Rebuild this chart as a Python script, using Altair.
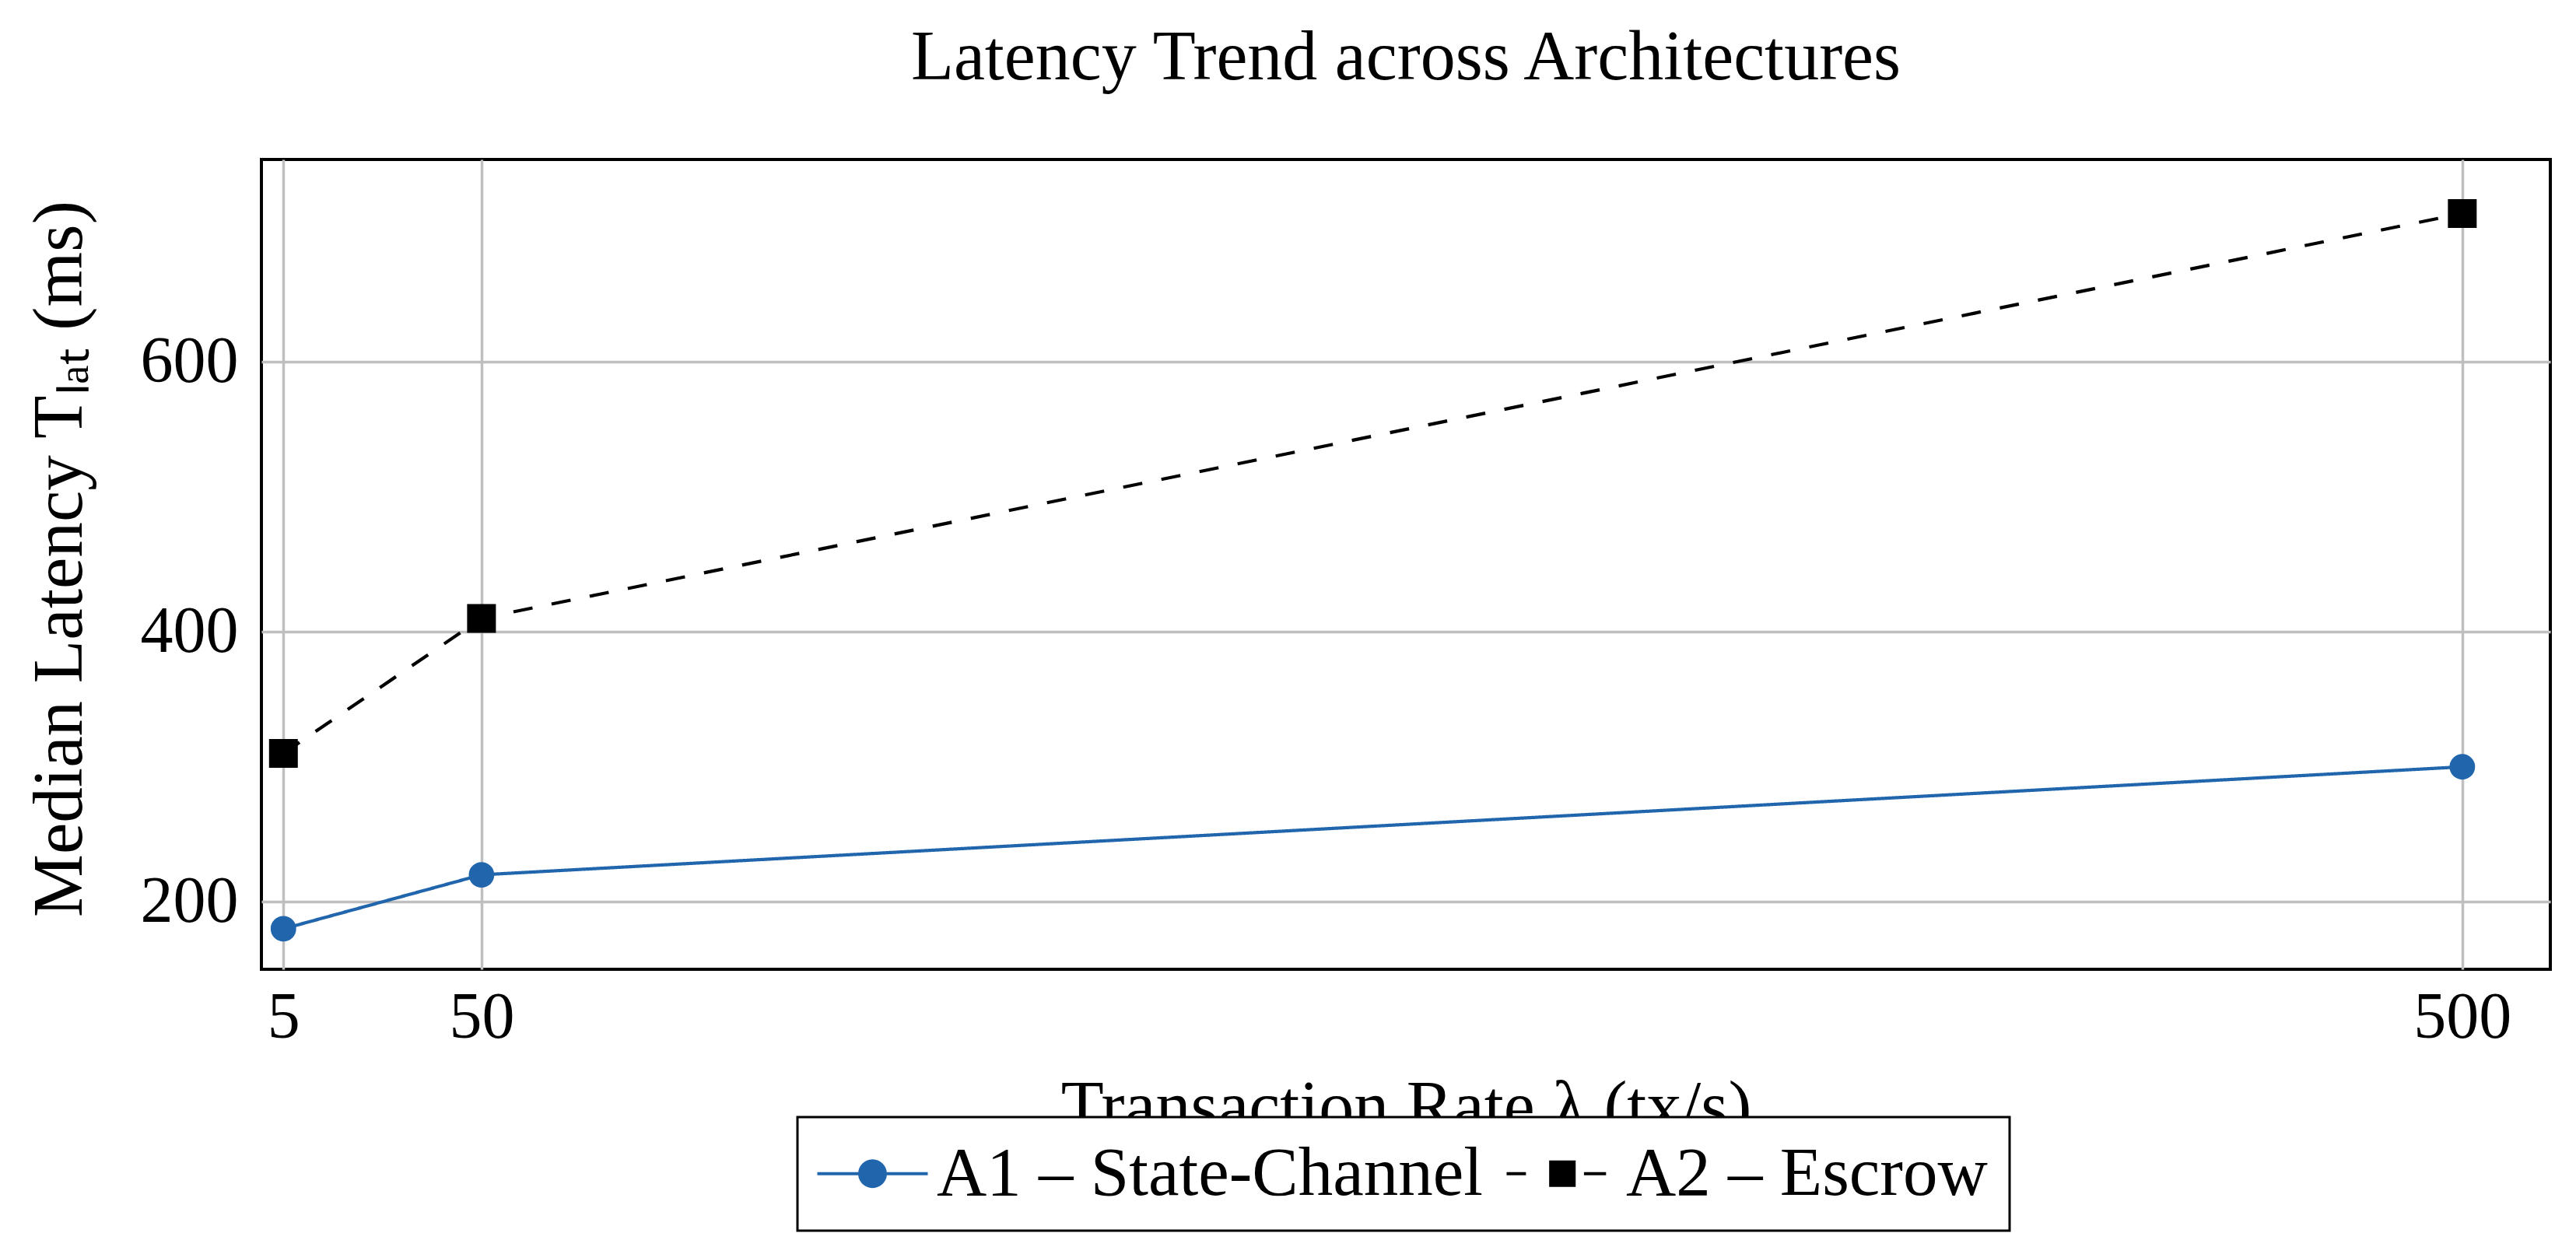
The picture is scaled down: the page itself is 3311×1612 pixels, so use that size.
import altair as alt
import pandas as pd

# ---- data ----
rates = [5, 50, 500]
a1_latency = [180, 220, 300]
a2_latency = [310, 410, 710]
series_names = ["A1 – State-Channel", "A2 – Escrow"]
series_colors = ["#2166ac", "#000000"]
x_ticks = [5, 50, 500]
y_ticks = [200, 400, 600]

df = pd.DataFrame({
    "rate": rates + rates,
    "latency": a1_latency + a2_latency,
    "series": [series_names[0]] * len(rates) + [series_names[1]] * len(rates),
})

FONT = "Liberation Serif"

# legend glyphs: line with marker (drawn as filled shapes)
A1_PATH = ("M-2,-0.055H-0.49V0.055H-2Z M0.49,-0.055H2V0.055H0.49Z "
           "M-0.52,0A0.52,0.52 0 1,1 0.52,0A0.52,0.52 0 1,1 -0.52,0Z")
A2_PATH = ("M-2,-0.055H-1.3V0.055H-2Z M0.8,-0.055H1.6V0.055H0.8Z "
           "M-0.46,-0.48H0.5V0.48H-0.46Z")

x_enc = alt.X(
    "rate:Q",
    scale=alt.Scale(domain=[0, 520], nice=False, zero=False),
    axis=alt.Axis(
        values=x_ticks, grid=True, gridColor="#bfbfbf", gridWidth=3.5,
        ticks=False, tickSize=0, domain=False,
        labelFontSize=84, labelFont=FONT, labelColor="black", labelPadding=21,
        title="Transaction Rate λ (tx/s)", titleFontSize=90, titleFont=FONT,
        titleFontWeight="normal", titleColor="black",
        titleX=1471, titleY=205, titleBaseline="alphabetic",
    ),
)
y_enc = alt.Y(
    "latency:Q",
    scale=alt.Scale(domain=[150, 750], nice=False, zero=False),
    axis=alt.Axis(
        values=y_ticks, grid=True, gridColor="#bfbfbf", gridWidth=3.5,
        ticks=False, tickSize=0, domain=False,
        labelFontSize=84, labelFont=FONT, labelColor="black", labelPadding=30,
        title="Median Latency Tₗₐₜ (ms)", titleFontSize=91, titleFont=FONT,
        titleFontWeight="normal", titleColor="black",
        titleX=-232, titleY=513, titleBaseline="alphabetic",
    ),
)
color_scale = alt.Scale(domain=series_names, range=series_colors)

base = alt.Chart(df)

leg = alt.Legend(
    title=None, orient="none", legendX=689, legendY=1231, direction="horizontal",
    fillColor="white", strokeColor="black", padding=28,
    symbolSize=5041, symbolStrokeWidth=0, symbolOpacity=1, symbolOffset=24,
    labelOffset=38, labelFontSize=89, labelFont=FONT, labelColor="black",
    labelLimit=3000, columnPadding=30,
)

# invisible layer that only carries the legend (line+marker glyphs)
legend_layer = base.mark_point(filled=True, opacity=0).encode(
    x=x_enc, y=y_enc,
    color=alt.Color("series:N", scale=color_scale, legend=leg),
    shape=alt.Shape("series:N", scale=alt.Scale(domain=series_names, range=[A1_PATH, A2_PATH]), legend=leg),
)

lines = base.mark_line(strokeWidth=4.2).encode(
    x=x_enc, y=y_enc,
    color=alt.Color("series:N", scale=color_scale, legend=None),
    strokeDash=alt.StrokeDash(
        "series:N",
        scale=alt.Scale(domain=series_names, range=[[1, 0], [25, 25]]),
        legend=None,
    ),
)

pts_a1 = base.transform_filter(alt.datum.series == series_names[0]).mark_point(
    shape="circle", filled=True, size=1075, opacity=1
).encode(x=x_enc, y=y_enc, color=alt.Color("series:N", scale=color_scale, legend=None))

pts_a2 = base.transform_filter(alt.datum.series == series_names[1]).mark_point(
    shape="square", filled=True, size=1369, opacity=1
).encode(x=x_enc, y=y_enc, color=alt.Color("series:N", scale=color_scale, legend=None))

chart = alt.layer(legend_layer, lines, pts_a1, pts_a2).properties(
    width=2942,
    height=1041,
    title=alt.Title(
        "Latency Trend across Architectures", fontSize=90, font=FONT,
        fontWeight="normal", color="black", anchor="middle", frame="group",
        baseline="alphabetic", offset=13,
    ),
    autosize=alt.AutoSizeParams(type="none"),
    padding={"left": 328, "top": 197, "right": 25, "bottom": 358},
).configure_view(stroke="black", strokeWidth=4).configure_legend(strokeWidth=3)

chart.save("out.html", embed_options={"renderer": "svg", "actions": False})
